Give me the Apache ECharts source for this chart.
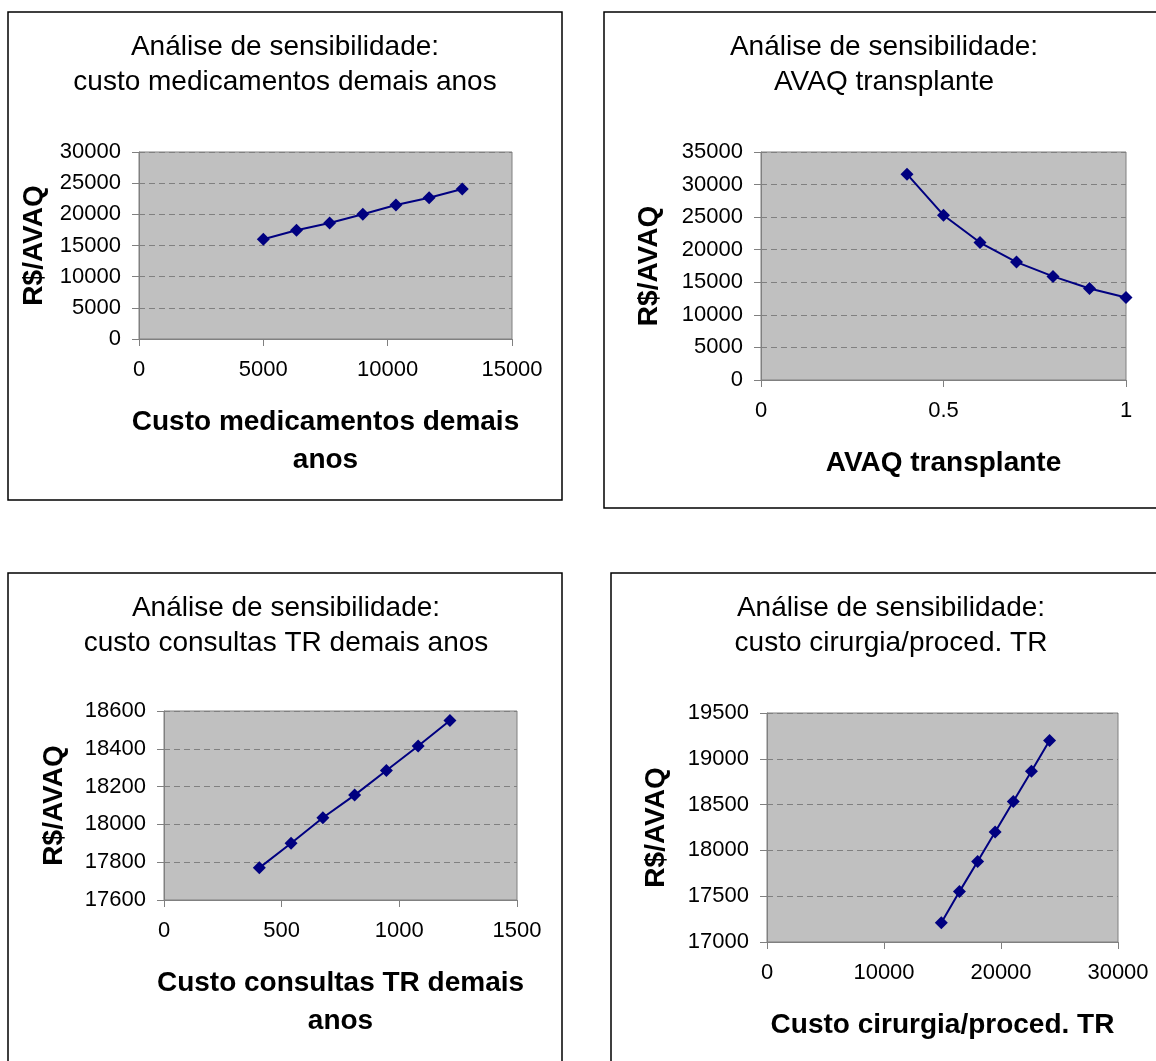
<!DOCTYPE html>
<html>
<head>
<meta charset="utf-8">
<script src="https://cdn.jsdelivr.net/npm/echarts@6/dist/echarts.min.js"></script>
<style>
    html, body { margin: 0; padding: 0; background: #fff; }
    #main { width: 1156px; height: 1061px; }
</style>
</head>
<body>
<div id="main"></div>
<script>
// valores
var medX = [5000, 6333, 7667, 9000, 10333, 11667, 13000];
var medY = [16000, 17450, 18600, 20000, 21500, 22650, 24050];
var avaqX = [0.4, 0.5, 0.6, 0.7, 0.8, 0.9, 1.0];
var avaqY = [31600, 25300, 21100, 18100, 15900, 14050, 12650];
var consX = [405, 540, 675, 810, 945, 1080, 1215];
var consY = [17770, 17900, 18035, 18155, 18285, 18415, 18550];
var cirX = [14900, 16450, 18000, 19500, 21050, 22600, 24150];
var cirY = [17210, 17550, 17880, 18200, 18535, 18865, 19200];

var titles = [
    'Análise de sensibilidade:\ncusto medicamentos demais anos',
    'Análise de sensibilidade:\nAVAQ transplante',
    'Análise de sensibilidade:\ncusto consultas TR demais anos',
    'Análise de sensibilidade:\ncusto cirurgia/proced. TR'
];
var xNames = ['Custo medicamentos demais\nanos', 'AVAQ transplante',
    'Custo consultas TR demais\nanos', 'Custo cirurgia/proced. TR'];
var yName = 'R$/AVAQ';

var font = "'Liberation Sans', Arial, sans-serif";

function pair(xs, ys) {
    var out = [];
    for (var i = 0; i < xs.length; i++) out.push([xs[i], ys[i]]);
    return out;
}
// sem separador de milhar, como no Excel
function plain(v) {
    return String(v);
}

// posições de cada painel
var panels = [
    { box: [8, 12, 554, 488], tx: 285, ty: 30, grid: [139, 152, 373, 187], x: [0, 15000, 5000], y: [0, 30000, 5000], yGap: 91, data: pair(medX, medY) },
    { box: [604, 12, 600, 496], tx: 884, ty: 30, grid: [761, 152, 365, 228], x: [0, 1, 0.5], y: [0, 35000, 5000], yGap: 98, data: pair(avaqX, avaqY) },
    { box: [8, 573, 554, 600], tx: 286, ty: 591, grid: [164, 711, 353, 189], x: [0, 1500, 500], y: [17600, 18600, 200], yGap: 96, data: pair(consX, consY) },
    { box: [611, 573, 600, 600], tx: 891, ty: 591, grid: [767, 713, 351, 229], x: [0, 30000, 10000], y: [17000, 19500, 500], yGap: 97, data: pair(cirX, cirY) }
];

var option = {
    backgroundColor: '#fff',
    animation: false,
    title: [], grid: [], xAxis: [], yAxis: [], series: [], graphic: []
};

panels.forEach(function (p, i) {
    option.graphic.push({
        type: 'rect', z: 0,
        shape: { x: p.box[0], y: p.box[1], width: p.box[2], height: p.box[3] },
        style: { fill: 'none', stroke: '#000', lineWidth: 1.5 }
    });
    option.title.push({
        text: titles[i], left: p.tx, top: p.ty, textAlign: 'center', padding: 0,
        textStyle: { fontFamily: font, fontSize: 28, fontWeight: 'normal', color: '#000', lineHeight: 35 }
    });
    option.grid.push({
        left: p.grid[0], top: p.grid[1], width: p.grid[2], height: p.grid[3],
        show: true, backgroundColor: '#C0C0C0', borderColor: '#808080', borderWidth: 1
    });
    option.xAxis.push({
        type: 'value', gridIndex: i, min: p.x[0], max: p.x[1], interval: p.x[2],
        name: xNames[i], nameLocation: 'middle', nameGap: 64,
        nameTextStyle: { fontFamily: font, fontSize: 28, fontWeight: 'bold', color: '#000', lineHeight: 38 },
        axisLine: { lineStyle: { color: '#808080' } },
        axisTick: { show: true, length: 7, lineStyle: { color: '#808080' } },
        axisLabel: { fontFamily: font, fontSize: 22, color: '#000', margin: 20, formatter: plain },
        splitLine: { show: false }
    });
    option.yAxis.push({
        type: 'value', gridIndex: i, min: p.y[0], max: p.y[1], interval: p.y[2],
        name: yName, nameLocation: 'middle', nameGap: p.yGap, nameRotate: 90,
        nameTextStyle: { fontFamily: font, fontSize: 28, fontWeight: 'bold', color: '#000' },
        axisLine: { show: true, lineStyle: { color: '#808080' } },
        axisTick: { show: true, length: 7, lineStyle: { color: '#808080' } },
        axisLabel: { fontFamily: font, fontSize: 22, color: '#000', margin: 18, formatter: plain },
        splitLine: { show: true, lineStyle: { color: '#808080', type: [6, 4] } }
    });
    option.series.push({
        type: 'line', xAxisIndex: i, yAxisIndex: i, data: p.data,
        symbol: 'diamond', symbolSize: 13,
        lineStyle: { color: '#000080', width: 2 },
        itemStyle: { color: '#000080' }
    });
});

var chart = echarts.init(document.getElementById('main'));
chart.setOption(option);
</script>
</body>
</html>
